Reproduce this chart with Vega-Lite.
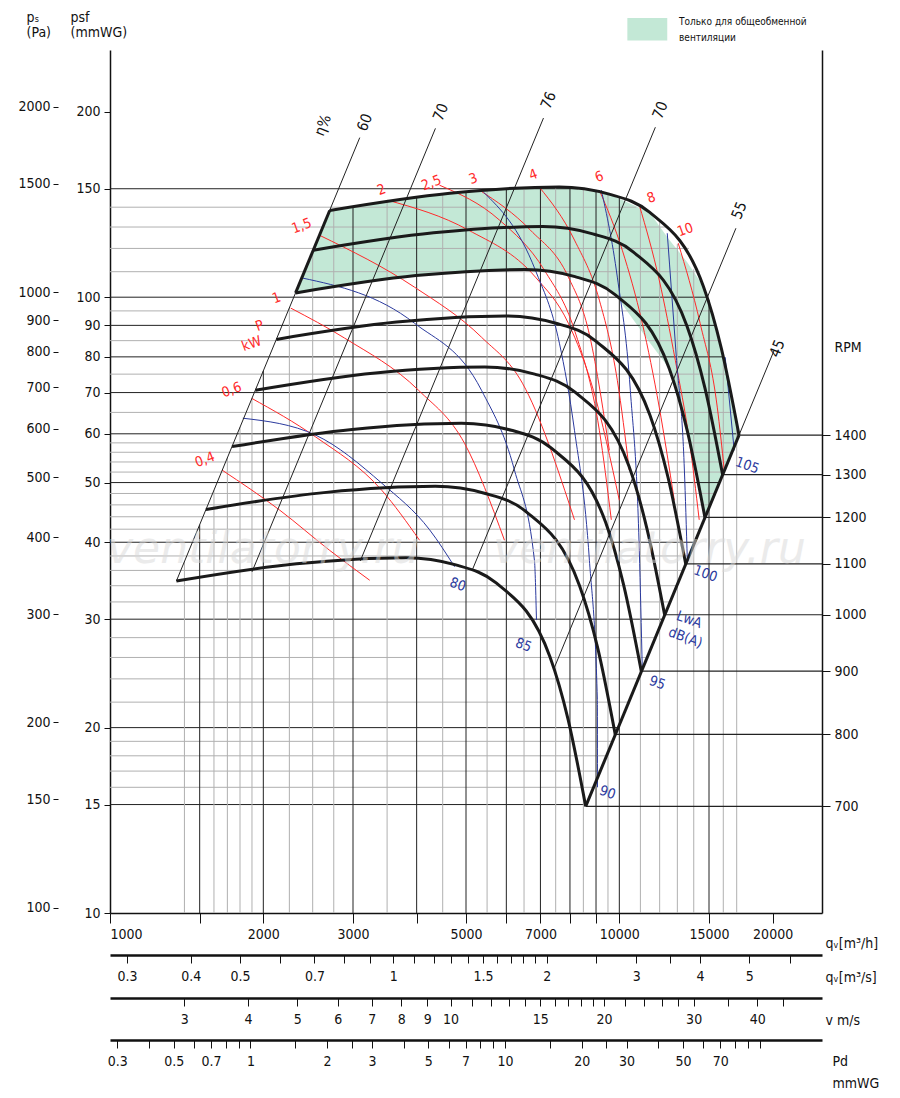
{
"$schema":"https://vega.github.io/schema/vega-lite/v6.json",
"width":712,"height":863,
"autosize":{"type":"none"},
"padding":{"left":110,"top":50,"right":78,"bottom":185},
"config":{"view":{"stroke":null},"font":"Liberation Sans Narrow, DejaVu Sans Condensed, sans-serif","axis":{"labelFont":"Liberation Sans Narrow, DejaVu Sans Condensed, sans-serif","titleFont":"Liberation Sans Narrow, DejaVu Sans Condensed, sans-serif","labelFontSize":14,"titleFontSize":14,"titleFontWeight":"normal","labelColor":"#111","titleColor":"#111","domainColor":"#111","tickColor":"#111","grid":false}},
"datasets":{
"fan":[
{"rpm":1400,"q":2700,"p":138.3},{"rpm":1400,"q":4650,"p":147.5},{"rpm":1400,"q":7620,"p":151},{"rpm":1400,"q":9550,"p":147},{"rpm":1400,"q":11460,"p":137.4},{"rpm":1400,"q":14620,"p":104.2},{"rpm":1400,"q":15860,"p":82.6},{"rpm":1400,"q":17180,"p":59.7},
{"rpm":1300,"q":2507,"p":119.2},{"rpm":1300,"q":4318,"p":127.2},{"rpm":1300,"q":7076,"p":130.2},{"rpm":1300,"q":8868,"p":126.7},{"rpm":1300,"q":10642,"p":118.5},{"rpm":1300,"q":13576,"p":89.8},{"rpm":1300,"q":14728,"p":71.2},{"rpm":1300,"q":15953,"p":51.5},
{"rpm":1200,"q":2314,"p":101.6},{"rpm":1200,"q":3986,"p":108.4},{"rpm":1200,"q":6531,"p":110.9},{"rpm":1200,"q":8185,"p":108},{"rpm":1200,"q":9822,"p":100.9},{"rpm":1200,"q":12531,"p":76.6},{"rpm":1200,"q":13594,"p":60.7},{"rpm":1200,"q":14725,"p":43.9},
{"rpm":1100,"q":2121,"p":85.4},{"rpm":1100,"q":3653,"p":91.1},{"rpm":1100,"q":5987,"p":93.2},{"rpm":1100,"q":7503,"p":90.7},{"rpm":1100,"q":9004,"p":84.8},{"rpm":1100,"q":11487,"p":64.3},{"rpm":1100,"q":12461,"p":51},{"rpm":1100,"q":13498,"p":36.9},
{"rpm":1000,"q":1929,"p":70.6},{"rpm":1000,"q":3321,"p":75.3},{"rpm":1000,"q":5443,"p":77},{"rpm":1000,"q":6821,"p":75},{"rpm":1000,"q":8186,"p":70.1},{"rpm":1000,"q":10443,"p":53.2},{"rpm":1000,"q":11329,"p":42.1},{"rpm":1000,"q":12272,"p":30.5},
{"rpm":900,"q":1736,"p":57.2},{"rpm":900,"q":2989,"p":61},{"rpm":900,"q":4899,"p":62.4},{"rpm":900,"q":6139,"p":60.8},{"rpm":900,"q":7367,"p":56.8},{"rpm":900,"q":9399,"p":43.1},{"rpm":900,"q":10196,"p":34.1},{"rpm":900,"q":11045,"p":24.7},
{"rpm":800,"q":1543,"p":45.2},{"rpm":800,"q":2657,"p":48.2},{"rpm":800,"q":4354,"p":49.3},{"rpm":800,"q":5457,"p":48},{"rpm":800,"q":6548,"p":44.9},{"rpm":800,"q":8354,"p":34},{"rpm":800,"q":9063,"p":27},{"rpm":800,"q":9817,"p":19.5},
{"rpm":700,"q":1350,"p":34.6},{"rpm":700,"q":2325,"p":36.9},{"rpm":700,"q":3810,"p":37.75},{"rpm":700,"q":4775,"p":36.75},{"rpm":700,"q":5730,"p":34.35},{"rpm":700,"q":7310,"p":26.05},{"rpm":700,"q":7930,"p":20.65},{"rpm":700,"q":8590,"p":14.9}
],
"ends":[{"rpm":1400,"q":17180,"q2":25000,"p":59.7},{"rpm":1300,"q":15953,"q2":25000,"p":51.5},{"rpm":1200,"q":14725,"q2":25000,"p":43.9},{"rpm":1100,"q":13498,"q2":25000,"p":36.9},{"rpm":1000,"q":12272,"q2":25000,"p":30.5},{"rpm":900,"q":11045,"q2":25000,"p":24.7},{"rpm":800,"q":9817,"q2":25000,"p":19.5},{"rpm":700,"q":8590,"q2":25000,"p":14.9}],
"green":[{"q":2314,"top":101.6,"bot":101.6},{"q":2700,"top":138.3,"bot":103.5},{"q":3986,"top":145,"bot":108.4},{"q":4650,"top":147.5,"bot":109.2},{"q":6531,"top":150.5,"bot":110.9},{"q":7620,"top":151,"bot":109.5},{"q":8185,"top":150,"bot":108},{"q":9550,"top":147,"bot":103.5},{"q":9822,"top":145.5,"bot":100.9},{"q":11460,"top":137.4,"bot":84.5},{"q":12531,"top":124,"bot":76.6},{"q":13594,"top":114,"bot":60.7},{"q":14620,"top":104.2,"bot":46},{"q":14725,"top":103,"bot":43.9},{"q":15860,"top":82.6,"bot":50.8},{"q":17180,"top":59.7,"bot":59.7}],
"h":[
{"p":15,"q1":1000,"q2":8612,"kind":"major"},{"p":16,"q1":1000,"q2":8894,"kind":"minor"},{"p":17,"q1":1000,"q2":9167,"kind":"minor"},{"p":18,"q1":1000,"q2":9433,"kind":"minor"},{"p":19,"q1":1000,"q2":9692,"kind":"minor"},{"p":20,"q1":1000,"q2":9944,"kind":"major"},{"p":22,"q1":1000,"q2":10430,"kind":"minor"},{"p":24,"q1":1000,"q2":10893,"kind":"minor"},{"p":26,"q1":1000,"q2":11337,"kind":"minor"},{"p":28,"q1":1000,"q2":11766,"kind":"minor"},{"p":30,"q1":1000,"q2":12179,"kind":"major"},{"p":32,"q1":1000,"q2":12578,"kind":"minor"},{"p":34,"q1":1000,"q2":12965,"kind":"minor"},{"p":36,"q1":1000,"q2":13341,"kind":"minor"},{"p":38,"q1":1000,"q2":13707,"kind":"minor"},{"p":40,"q1":1000,"q2":14062,"kind":"major"},{"p":42,"q1":1000,"q2":14410,"kind":"minor"},{"p":44,"q1":1000,"q2":14749,"kind":"minor"},{"p":46,"q1":1000,"q2":15081,"kind":"minor"},{"p":48,"q1":1000,"q2":15405,"kind":"minor"},{"p":50,"q1":1000,"q2":15722,"kind":"major"},{"p":52,"q1":1000,"q2":16034,"kind":"minor"},{"p":54,"q1":1000,"q2":16339,"kind":"minor"},{"p":56,"q1":1000,"q2":16639,"kind":"minor"},{"p":58,"q1":1000,"q2":16934,"kind":"minor"},{"p":60,"q1":1000,"q2":17180,"kind":"major"},{"p":65,"q1":1000,"q2":16900,"kind":"minor"},{"p":70,"q1":1000,"q2":16550,"kind":"major"},{"p":75,"q1":1000,"q2":16270,"kind":"minor"},{"p":80,"q1":1000,"q2":15980,"kind":"major"},{"p":85,"q1":1000,"q2":15700,"kind":"minor"},{"p":90,"q1":1000,"q2":15430,"kind":"major"},{"p":95,"q1":1000,"q2":15150,"kind":"minor"},{"p":100,"q1":1000,"q2":14850,"kind":"major"},{"p":110,"q1":1000,"q2":14400,"kind":"minor"},{"p":120,"q1":1000,"q2":13700,"kind":"minor"},{"p":130,"q1":1000,"q2":12500,"kind":"minor"},{"p":140,"q1":1000,"q2":10800,"kind":"minor"},{"p":150,"q1":1000,"q2":8300,"kind":"major"}],
"v":[
{"q":1400,"p1":10,"p2":37.2,"kind":"minor"},{"q":1500,"p1":10,"p2":42.7,"kind":"major"},{"q":1600,"p1":10,"p2":48.6,"kind":"minor"},{"q":1700,"p1":10,"p2":54.9,"kind":"minor"},{"q":1800,"p1":10,"p2":61.5,"kind":"minor"},{"q":1900,"p1":10,"p2":68.5,"kind":"minor"},{"q":2000,"p1":10,"p2":75.9,"kind":"major"},{"q":2250,"p1":10,"p2":96.1,"kind":"minor"},{"q":2500,"p1":10,"p2":118.6,"kind":"minor"},{"q":2750,"p1":10,"p2":139,"kind":"minor"},{"q":3000,"p1":10,"p2":140.5,"kind":"major"},{"q":3500,"p1":10,"p2":143,"kind":"minor"},{"q":4000,"p1":10,"p2":145.5,"kind":"major"},{"q":4500,"p1":10,"p2":147.2,"kind":"minor"},{"q":5000,"p1":10,"p2":148,"kind":"major"},{"q":5500,"p1":10,"p2":149,"kind":"minor"},{"q":6000,"p1":10,"p2":150,"kind":"major"},{"q":6500,"p1":10,"p2":150.5,"kind":"minor"},{"q":7000,"p1":10,"p2":151,"kind":"major"},{"q":7500,"p1":10,"p2":151,"kind":"minor"},{"q":8000,"p1":10,"p2":150.5,"kind":"major"},{"q":8500,"p1":10,"p2":149.5,"kind":"minor"},{"q":9000,"p1":10,"p2":148.5,"kind":"major"},{"q":9500,"p1":10,"p2":147,"kind":"minor"},{"q":10000,"p1":10,"p2":145,"kind":"major"},{"q":11000,"p1":10,"p2":140,"kind":"minor"},{"q":12000,"p1":10,"p2":133,"kind":"minor"},{"q":13000,"p1":10,"p2":122,"kind":"minor"},{"q":14000,"p1":10,"p2":111,"kind":"minor"},{"q":15000,"p1":10,"p2":99,"kind":"major"},{"q":16000,"p1":10,"p2":80,"kind":"minor"},{"q":17000,"p1":10,"p2":63,"kind":"minor"}],
"pw":[
{"id":"0.4","q":1659,"p":52.4},{"id":"0.4","q":2154,"p":45.1},{"id":"0.4","q":2700,"p":38.8},{"id":"0.4","q":3235,"p":34.7},
{"id":"0.6","q":1898,"p":68.5},{"id":"0.6","q":2534,"p":59.3},{"id":"0.6","q":3415,"p":48.6},{"id":"0.6","q":4053,"p":40.3},
{"id":"1","q":2264,"p":96},{"id":"1","q":2889,"p":85.8},{"id":"1","q":4035,"p":70.6},{"id":"1","q":4967,"p":57.9},{"id":"1","q":5950,"p":40.3},
{"id":"1.5","q":2581,"p":126},{"id":"1.5","q":3963,"p":103.8},{"id":"1.5","q":5363,"p":86.1},{"id":"1.5","q":6453,"p":72.5},{"id":"1.5","q":8165,"p":43.5},
{"id":"2","q":3509,"p":143.7},{"id":"2","q":5057,"p":128.5},{"id":"2","q":6843,"p":107.8},{"id":"2","q":7943,"p":90.7},{"id":"2","q":8895,"p":70.6},{"id":"2","q":10000,"p":46.8},
{"id":"2.5","q":4436,"p":152},{"id":"2.5","q":5818,"p":133.4},{"id":"2.5","q":7127,"p":110.6},{"id":"2.5","q":8165,"p":88.4},{"id":"2.5","q":9137,"p":60.8},{"id":"2.5","q":9645,"p":43.5},
{"id":"3","q":5315,"p":149.2},{"id":"3","q":6690,"p":128.5},{"id":"3","q":7943,"p":107.8},{"id":"3","q":8695,"p":88.4},{"id":"3","q":9560,"p":56.4},
{"id":"4","q":6966,"p":150.9},{"id":"4","q":8165,"p":123.8},{"id":"4","q":9137,"p":98.9},{"id":"4","q":9910,"p":73.3},{"id":"4","q":10460,"p":52.4},
{"id":"6","q":9137,"p":149.2},{"id":"6","q":10136,"p":119.2},{"id":"6","q":11095,"p":90.7},{"id":"6","q":11977,"p":66.3},{"id":"6","q":12819,"p":46.8},
{"id":"8","q":10945,"p":141.1},{"id":"8","q":11977,"p":106.6},{"id":"8","q":12880,"p":79},{"id":"8","q":13720,"p":58.6},{"id":"8","q":14350,"p":43.5},
{"id":"10","q":13050,"p":122.4},{"id":"10","q":14410,"p":90.7},{"id":"10","q":15570,"p":66.3},{"id":"10","q":16070,"p":52.4}],
"lw":[
{"id":"80","q":1823,"p":63.6},{"id":"80","q":2534,"p":59.7},{"id":"80","q":3415,"p":49.9},{"id":"80","q":4242,"p":41.9},{"id":"80","q":4748,"p":36.5},
{"id":"85","q":2390,"p":107.4},{"id":"85","q":3963,"p":90.7},{"id":"85","q":5363,"p":70.6},{"id":"85","q":6224,"p":52.4},{"id":"85","q":6813,"p":37.4},{"id":"85","q":6876,"p":29.9},
{"id":"90","q":5412,"p":148.1},{"id":"90","q":6843,"p":110.6},{"id":"90","q":7627,"p":84.2},{"id":"90","q":8165,"p":60.8},{"id":"90","q":8735,"p":37.4},{"id":"90","q":9055,"p":22.2},{"id":"90","q":9060,"p":16},
{"id":"95","q":9220,"p":149.2},{"id":"95","q":9910,"p":107.8},{"id":"95","q":10510,"p":70.6},{"id":"95","q":10945,"p":38.8},{"id":"95","q":11095,"p":24.8},
{"id":"100","q":12420,"p":127},{"id":"100","q":12940,"p":79.9},{"id":"100","q":13420,"p":52.4},{"id":"100","q":13600,"p":37.4},
{"id":"105","q":16140,"p":79.9},{"id":"105","q":16810,"p":56.4}],
"eta":[
{"id":"60","q":1350,"p":34.6},{"id":"60","q":3093,"p":181.6},
{"id":"70a","q":1900,"p":35.8},{"id":"70a","q":4355,"p":188},
{"id":"76","q":3100,"p":37.3},{"id":"76","q":7097,"p":195.4},
{"id":"70b","q":5140,"p":36},{"id":"70b","q":11770,"p":188.8},
{"id":"55","q":7450,"p":25},{"id":"55","q":16940,"p":129.4},
{"id":"45","q":17180,"p":59.7},{"id":"45","q":20140,"p":82}],
"bound":[{"id":"l","q":2314,"p":101.6},{"id":"l","q":2700,"p":138.3},{"id":"r","q":8590,"p":14.9},{"id":"r","q":17180,"p":59.7}],
"redtxt":[{"t":"0,4","q":1536,"p":54.4},{"t":"0,6","q":1735,"p":70.6},{"t":"P","q":1968,"p":89.7},{"t":"kW","q":1898,"p":83.9},{"t":"1","q":2124,"p":99.6},{"t":"1,5","q":2380,"p":130.4},{"t":"2","q":3415,"p":149.2},{"t":"2,5","q":4279,"p":153.1},{"t":"3","q":5172,"p":155.5},{"t":"4","q":6782,"p":157.8},{"t":"6","q":9137,"p":156.6},{"t":"8","q":11560,"p":144.8},{"t":"10","q":13475,"p":128.5}],
"bluetxt":[{"t":"80","q":4813,"p":34.1},{"t":"85","q":6483,"p":27.2},{"t":"90","q":9474,"p":15.66},{"t":"95","q":11870,"p":23.6},{"t":"100","q":14750,"p":35.5},{"t":"105","q":17820,"p":53.2},{"t":"LwA","q":13710,"p":29.9},{"t":"dB(A)","q":13475,"p":27.95}],
"etatxt":[{"t":"η%","q":2615,"p":190.2},{"t":"60","q":3162,"p":192.3},{"t":"70","q":4457,"p":199.7},{"t":"76","q":7256,"p":208.8},{"t":"70","q":12030,"p":201.2},{"t":"55","q":17190,"p":138.3},{"t":"45","q":20400,"p":82.6}],
"wm":[{"t":"ventilatorry.ru","q":2000,"p":38.8},{"t":"ventilatorry.ru","q":11460,"p":38.8}],
"leg":[{"q1":10370,"q2":12420,"p1":261,"p2":284}],
"legtxt":[{"t":"Только для общеобменной","q":13100,"p":279.5},{"t":"вентиляции","q":13100,"p":264}],
"ax":[{"pa":1000,"rpm":30,"qs":1,"vv":10,"pd":1}]
},
"layer":[
{"layer":[
{"data":{"name":"green"},"mark":{"type":"area","color":"#c3e8d6"},
 "encoding":{"x":{"field":"q","type":"quantitative","scale":{"type":"log","domain":[1000,25000],"nice":false},
   "axis":{"values":[1000,1500,2000,3000,4000,5000,6000,7000,8000,9000,10000,15000,20000],"format":"d","labelExpr":"indexof([1500,4000,6000,8000,9000], datum.value) >= 0 ? '' : datum.label","tickSize":10,"labelPadding":4,"domainWidth":1.5,"title":"qᵥ[m³/h]","titleAngle":0,"titleAlign":"left","titleX":715,"titleY":30,"titleBaseline":"middle"}},
  "y":{"field":"top","type":"quantitative","scale":{"type":"log","domain":[10,252],"nice":false},
   "axis":{"values":[10,15,20,30,40,50,60,70,80,90,100,150,200],"format":"d","tickSize":6,"labelPadding":4,"domainWidth":1.5,"title":["psf","(mmWG)"],"titleAngle":0,"titleAlign":"left","titleX":-40,"titleY":-40,"titleBaseline":"top","titleLineHeight":15}},
  "y2":{"field":"bot"}}},
{"data":{"name":"h"},"mark":{"type":"rule","strokeWidth":1},
 "encoding":{"y":{"field":"p","type":"quantitative"},"x":{"field":"q1","type":"quantitative"},"x2":{"field":"q2"},
  "color":{"field":"kind","type":"nominal","scale":{"domain":["major","minor"],"range":["#222222","#b0b0b0"]},"legend":null}}},
{"data":{"name":"v"},"mark":{"type":"rule","strokeWidth":1},
 "encoding":{"x":{"field":"q","type":"quantitative"},"y":{"field":"p1","type":"quantitative"},"y2":{"field":"p2"},
  "color":{"field":"kind","type":"nominal","legend":null}}},
{"data":{"name":"ends"},"mark":{"type":"rule","color":"#222","strokeWidth":1.2},
 "encoding":{"x":{"field":"q","type":"quantitative"},"x2":{"field":"q2"},"y":{"field":"p","type":"quantitative"}}},
{"data":{"name":"pw"},"mark":{"type":"line","color":"#ff2a2a","strokeWidth":1,"interpolate":"monotone"},
 "encoding":{"x":{"field":"q","type":"quantitative"},"y":{"field":"p","type":"quantitative"},"detail":{"field":"id"}}},
{"data":{"name":"lw"},"mark":{"type":"line","color":"#2b3a9e","strokeWidth":1,"interpolate":"monotone"},
 "encoding":{"x":{"field":"q","type":"quantitative"},"y":{"field":"p","type":"quantitative"},"detail":{"field":"id"}}},
{"data":{"name":"eta"},"mark":{"type":"line","color":"#222","strokeWidth":1},
 "encoding":{"x":{"field":"q","type":"quantitative"},"y":{"field":"p","type":"quantitative"},"detail":{"field":"id"}}},
{"data":{"name":"bound"},"mark":{"type":"line","color":"#1a1a1a","strokeWidth":3},
 "encoding":{"x":{"field":"q","type":"quantitative"},"y":{"field":"p","type":"quantitative"},"detail":{"field":"id"}}},
{"data":{"name":"fan"},"mark":{"type":"line","color":"#1a1a1a","strokeWidth":3,"interpolate":"monotone"},
 "encoding":{"x":{"field":"q","type":"quantitative"},"y":{"field":"p","type":"quantitative"},"detail":{"field":"rpm"}}},
{"data":{"name":"redtxt"},"mark":{"type":"text","color":"#ff2a2a","fontSize":14,"angle":-20},
 "encoding":{"x":{"field":"q","type":"quantitative"},"y":{"field":"p","type":"quantitative"},"text":{"field":"t"}}},
{"data":{"name":"bluetxt"},"mark":{"type":"text","color":"#2b3a9e","fontSize":14,"angle":20},
 "encoding":{"x":{"field":"q","type":"quantitative"},"y":{"field":"p","type":"quantitative"},"text":{"field":"t"}}},
{"data":{"name":"etatxt"},"mark":{"type":"text","color":"#111","fontSize":15,"angle":-68},
 "encoding":{"x":{"field":"q","type":"quantitative"},"y":{"field":"p","type":"quantitative"},"text":{"field":"t"}}},
{"data":{"name":"wm"},"mark":{"type":"text","color":"#d8d8d8","opacity":0.5,"fontSize":44,"fontStyle":"italic","font":"DejaVu Sans"},
 "encoding":{"x":{"field":"q","type":"quantitative"},"y":{"field":"p","type":"quantitative"},"text":{"field":"t"}}},
{"data":{"name":"leg"},"mark":{"type":"rect","color":"#c3e8d6"},
 "encoding":{"x":{"field":"q1","type":"quantitative"},"x2":{"field":"q2"},"y":{"field":"p1","type":"quantitative"},"y2":{"field":"p2"}}},
{"data":{"name":"legtxt"},"mark":{"type":"text","color":"#111","fontSize":10,"align":"left"},
 "encoding":{"x":{"field":"q","type":"quantitative"},"y":{"field":"p","type":"quantitative"},"text":{"field":"t"}}}
]},
{"data":{"name":"ax"},"mark":{"type":"point","opacity":0},
 "encoding":{"x":{"value":0},"y":{"field":"pa","type":"quantitative","scale":{"type":"log","domain":[98.1,2472],"nice":false},
  "axis":{"orient":"left","offset":52,"values":[100,150,200,300,400,500,600,700,800,900,1000,1500,2000],"format":"d","domain":false,"tickSize":5,"labelPadding":3,"title":["pₛ","(Pa)"],"titleAngle":0,"titleAlign":"left","titleX":-32,"titleY":-40,"titleBaseline":"top","titleLineHeight":15}}}},
{"data":{"name":"ax"},"mark":{"type":"point","opacity":0},
 "encoding":{"x":{"value":0},"y":{"field":"rpm","type":"quantitative","scale":{"type":"log","domain":[10,252],"nice":false},
  "axis":{"orient":"right","values":[14.9,19.5,24.7,30.5,36.9,43.9,51.5,59.7],"labelExpr":"datum.value<16?'700':datum.value<21?'800':datum.value<27?'900':datum.value<33?'1000':datum.value<40?'1100':datum.value<47?'1200':datum.value<55?'1300':'1400'","tickSize":8,"labelPadding":4,"domainWidth":1.5,"title":"RPM","titleAngle":0,"titleAlign":"left","titleX":12,"titleY":297,"titleBaseline":"middle"}}}},
{"data":{"name":"ax"},"mark":{"type":"point","opacity":0},
 "encoding":{"y":{"value":0},"x":{"field":"qs","type":"quantitative","scale":{"type":"log","domain":[0.2778,6.944],"nice":false},
  "axis":{"orient":"bottom","offset":42,"values":[0.3,0.4,0.5,0.6,0.7,0.8,0.9,1,1.1,1.2,1.3,1.4,1.5,1.6,1.7,1.8,1.9,2,2.5,3,3.5,4,5,6],"format":"~g","labelExpr":"indexof([0.3,0.4,0.5,0.7,1,1.5,2,3,4,5], datum.value) >= 0 ? datum.label : ''","tickSize":8,"labelPadding":6,"domainWidth":2.5,"title":"qᵥ[m³/s]","titleAngle":0,"titleAlign":"left","titleX":715,"titleY":22,"titleBaseline":"middle"}}}},
{"data":{"name":"ax"},"mark":{"type":"point","opacity":0},
 "encoding":{"y":{"value":0},"x":{"field":"vv","type":"quantitative","scale":{"type":"log","domain":[2.144,53.6],"nice":false},
  "axis":{"orient":"bottom","offset":85,"values":[3,4,5,6,7,8,9,10,11,12,13,14,15,16,17,18,19,20,22,24,26,28,30,35,40,45],"format":"~g","labelExpr":"indexof([3,4,5,6,7,8,9,10,15,20,30,40], datum.value) >= 0 ? datum.label : ''","tickSize":8,"labelPadding":6,"domainWidth":2.5,"title":"v m/s","titleAngle":0,"titleAlign":"left","titleX":715,"titleY":22,"titleBaseline":"middle"}}}},
{"data":{"name":"ax"},"mark":{"type":"point","opacity":0},
 "encoding":{"y":{"value":0},"x":{"field":"pd","type":"quantitative","scale":{"type":"log","domain":[0.281,175.7],"nice":false},
  "axis":{"orient":"bottom","offset":127,"values":[0.3,0.4,0.5,0.6,0.7,0.8,0.9,1,1.5,2,2.5,3,4,5,6,7,8,9,10,15,20,25,30,40,50,60,70,80,90,100],"format":"~g","labelExpr":"indexof([0.3,0.5,0.7,1,2,3,5,7,10,20,30,50,70], datum.value) >= 0 ? datum.label : ''","tickSize":8,"labelPadding":6,"domainWidth":2.5,"title":["Pd","mmWG"],"titleAngle":0,"titleAlign":"left","titleX":722,"titleY":14,"titleBaseline":"top","titleLineHeight":22}}}}
],
"resolve":{"scale":{"x":"independent","y":"independent"},"axis":{"x":"independent","y":"independent"}}
}
